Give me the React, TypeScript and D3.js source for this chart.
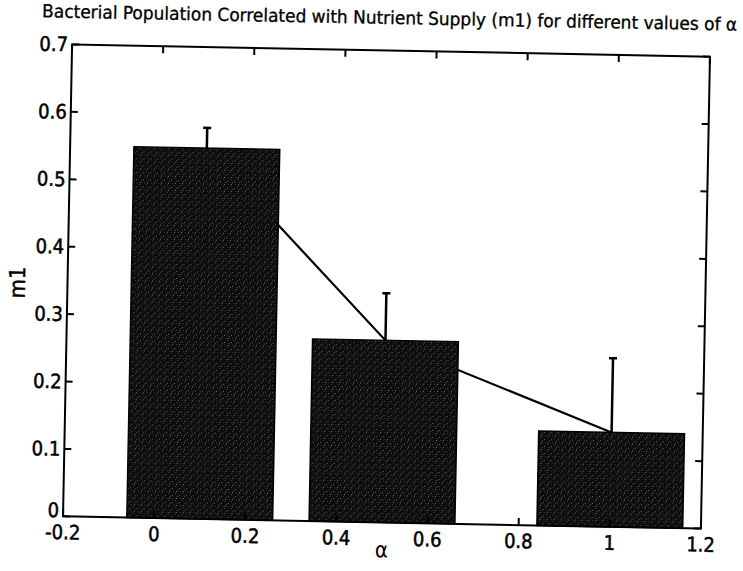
import React from 'react'
import * as d3 from 'd3'

// values
const alphaValues = [0.1, 0.5, 1.0]
const m1Means = [0.55, 0.27, 0.14]
const m1Errors = [0.03, 0.07, 0.11]
const xTicks = [-0.2, 0, 0.2, 0.4, 0.6, 0.8, 1, 1.2]
const yTicks = [0, 0.1, 0.2, 0.3, 0.4, 0.5, 0.6, 0.7]
const barWidth = 0.32

const W = 743
const H = 571
const margin = { top: 50.5, right: 37.5, bottom: 48.5, left: 67.5 }
const tilt = 1.1 // the scan is slightly rotated
const font = '"DejaVu Sans Condensed", "Liberation Sans Narrow", "Liberation Sans", Arial, sans-serif'

const fmt = (v: number) => String(+v.toFixed(1))

export default function App() {
  const innerW = W - margin.left - margin.right
  const innerH = H - margin.top - margin.bottom
  const cx = margin.left + innerW / 2
  const cy = margin.top + innerH / 2

  const x = d3.scaleLinear().domain([-0.2, 1.2]).range([margin.left, margin.left + innerW])
  const y = d3.scaleLinear().domain([0, 0.7]).range([margin.top + innerH, margin.top])

  const line = d3.line<number>()
    .x((_, i) => x(alphaValues[i]))
    .y(d => y(d))

  const tick = 7
  const cap = 4
  const x0 = x.range()[0], x1 = x.range()[1]
  const yb = y.range()[0], yt = y.range()[1]

  return (
    <svg width={W} height={H} style={{ position: 'absolute', left: 0, top: 0, background: '#fff' }}
      fontFamily={font}>
      <defs>
        <pattern id="speckle" width="7" height="7" patternUnits="userSpaceOnUse">
          <rect width="7" height="7" fill="#0d0d0d" />
          <rect x="1" y="2" width="1" height="1" fill="#6a6a6a" />
          <rect x="4" y="0" width="1" height="1" fill="#4a4a4a" />
          <rect x="5" y="5" width="1" height="1" fill="#7a7a7a" />
          <rect x="2" y="5" width="1" height="1" fill="#3c3c3c" />
          <rect x="6" y="3" width="1" height="1" fill="#555" />
        </pattern>
      </defs>
      <g transform={`rotate(${tilt},${cx},${cy})`}>
        <text x={cx - 2} y={24} fontSize={18} textAnchor="middle" textLength={695}
          lengthAdjust="spacingAndGlyphs" fill="#000" stroke="#000" strokeWidth={0.3}>
          Bacterial Population Correlated with Nutrient Supply (m1) for different values of α
        </text>

        {/* error bars, drawn first so the bars cover them */}
        <path d={line(m1Means) ?? ''} fill="none" stroke="#000" strokeWidth={2.2} />
        {alphaValues.map((a, i) => {
          const px = x(a)
          const hi = y(m1Means[i] + m1Errors[i])
          const lo = y(m1Means[i] - m1Errors[i])
          return (
            <g key={i} stroke="#000" strokeWidth={2.5}>
              <line x1={px} x2={px} y1={hi} y2={lo} />
              <line x1={px - cap} x2={px + cap} y1={hi} y2={hi} />
              <line x1={px - cap} x2={px + cap} y1={lo} y2={lo} />
            </g>
          )
        })}

        {/* bars */}
        {alphaValues.map((a, i) => (
          <rect key={i}
            x={x(a - barWidth / 2)} y={y(m1Means[i])}
            width={x(a + barWidth / 2) - x(a - barWidth / 2)}
            height={yb - y(m1Means[i])}
            fill="url(#speckle)" stroke="#000" strokeWidth={1.5} />
        ))}

        {/* axes box */}
        <rect x={x0} y={yt} width={x1 - x0} height={yb - yt} fill="none" stroke="#000" strokeWidth={2} />
        <g stroke="#000" strokeWidth={2}>
          {xTicks.map(t => (
            <g key={'x' + t}>
              <line x1={x(t)} x2={x(t)} y1={yb} y2={yb - tick} />
              <line x1={x(t)} x2={x(t)} y1={yt} y2={yt + tick} />
            </g>
          ))}
          {yTicks.map(t => (
            <g key={'y' + t}>
              <line x1={x0} x2={x0 + tick} y1={y(t)} y2={y(t)} />
              <line x1={x1} x2={x1 - tick} y1={y(t)} y2={y(t)} />
            </g>
          ))}
        </g>

        <g fontSize={20} fill="#000" stroke="#000" strokeWidth={0.5}>
          {xTicks.map(t => (
            <text key={'xl' + t} x={x(t)} y={yb + 23} textAnchor="middle">{fmt(t)}</text>
          ))}
          {yTicks.map(t => (
            <text key={'yl' + t} x={x0 - 4} y={y(t) + (t === 0 ? 1 : 7)} textAnchor="end">{fmt(t)}</text>
          ))}
        </g>

        <text x={cx} y={yb + 35} fontSize={22} textAnchor="middle" fill="#000">α</text>
        <text transform={`translate(25,${cy + 3}) rotate(-90)`} fontSize={22} textAnchor="middle"
          fill="#000" stroke="#000" strokeWidth={0.4}>m1</text>
      </g>
    </svg>
  )
}
